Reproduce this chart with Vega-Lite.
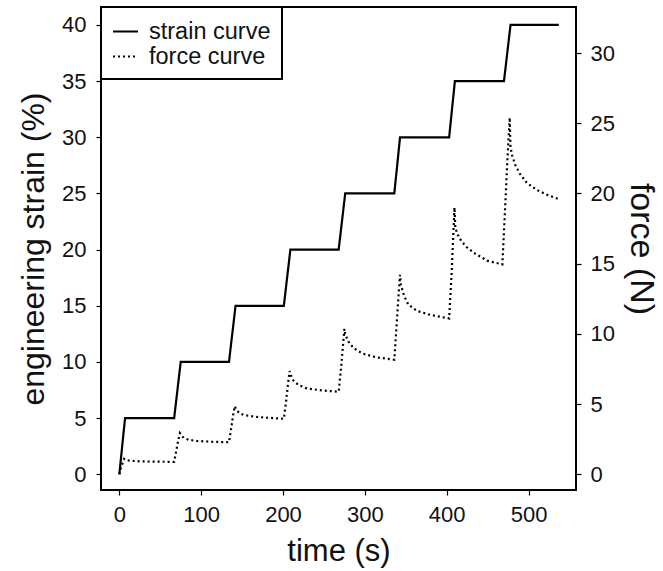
{
  "$schema": "https://vega.github.io/schema/vega-lite/v6.json",
  "autosize": "none",
  "width": 475,
  "height": 483,
  "padding": {"left": 101, "top": 7, "right": 87, "bottom": 81},
  "background": "white",
  "config": {
    "font": "Liberation Sans",
    "view": {"stroke": "black", "strokeWidth": 2},
    "axis": {
      "domain": false,
      "grid": false,
      "tickColor": "black",
      "tickSize": 5,
      "tickWidth": 1.2,
      "labelFont": "Liberation Sans",
      "labelFontSize": 22,
      "labelColor": "#111",
      "titleFont": "Liberation Sans",
      "titleFontSize": 32,
      "titleFontWeight": "normal",
      "titleColor": "#111"
    },
    "legend": {
      "strokeColor": "black",
      "strokeWidth": 2,
      "fillColor": "white",
      "cornerRadius": 0,
      "padding": 11,
      "offset": 0,
      "labelFont": "Liberation Sans",
      "labelFontSize": 23.5,
      "labelColor": "#111",
      "symbolType": "stroke",
      "symbolSize": 625,
      "symbolStrokeWidth": 2,
      "symbolStrokeColor": "black",
      "labelOffset": 10,
      "rowPadding": 0,
      "labelLimit": 300
    }
  },
  "data": {
    "values": [
      {"t": 0, "v": 0, "s": "strain curve"},
      {"t": 7, "v": 5, "s": "strain curve"},
      {"t": 67, "v": 5, "s": "strain curve"},
      {"t": 75, "v": 10, "s": "strain curve"},
      {"t": 134, "v": 10, "s": "strain curve"},
      {"t": 142, "v": 15, "s": "strain curve"},
      {"t": 201, "v": 15, "s": "strain curve"},
      {"t": 209, "v": 20, "s": "strain curve"},
      {"t": 268, "v": 20, "s": "strain curve"},
      {"t": 276, "v": 25, "s": "strain curve"},
      {"t": 336, "v": 25, "s": "strain curve"},
      {"t": 343, "v": 30, "s": "strain curve"},
      {"t": 403, "v": 30, "s": "strain curve"},
      {"t": 410, "v": 35, "s": "strain curve"},
      {"t": 470, "v": 35, "s": "strain curve"},
      {"t": 478, "v": 40, "s": "strain curve"},
      {"t": 537, "v": 40, "s": "strain curve"},

      {"t": 0, "v": 0, "s": "force curve"},
      {"t": 2, "v": 0.45, "s": "force curve"},
      {"t": 4, "v": 0.8, "s": "force curve"},
      {"t": 6, "v": 1.1, "s": "force curve"},
      {"t": 8, "v": 1.03, "s": "force curve"},
      {"t": 12, "v": 0.97, "s": "force curve"},
      {"t": 25, "v": 0.92, "s": "force curve"},
      {"t": 45, "v": 0.9, "s": "force curve"},
      {"t": 67, "v": 0.88, "s": "force curve"},
      {"t": 70, "v": 1.8, "s": "force curve"},
      {"t": 72, "v": 2.45, "s": "force curve"},
      {"t": 74, "v": 2.93, "s": "force curve"},
      {"t": 76, "v": 2.75, "s": "force curve"},
      {"t": 79, "v": 2.58, "s": "force curve"},
      {"t": 85, "v": 2.45, "s": "force curve"},
      {"t": 95, "v": 2.37, "s": "force curve"},
      {"t": 115, "v": 2.31, "s": "force curve"},
      {"t": 134, "v": 2.28, "s": "force curve"},
      {"t": 137, "v": 3.4, "s": "force curve"},
      {"t": 139, "v": 4.2, "s": "force curve"},
      {"t": 141, "v": 4.85, "s": "force curve"},
      {"t": 143, "v": 4.6, "s": "force curve"},
      {"t": 146, "v": 4.4, "s": "force curve"},
      {"t": 152, "v": 4.22, "s": "force curve"},
      {"t": 165, "v": 4.1, "s": "force curve"},
      {"t": 183, "v": 4.02, "s": "force curve"},
      {"t": 201, "v": 3.95, "s": "force curve"},
      {"t": 204, "v": 5.3, "s": "force curve"},
      {"t": 206, "v": 6.4, "s": "force curve"},
      {"t": 208, "v": 7.35, "s": "force curve"},
      {"t": 210, "v": 7.0, "s": "force curve"},
      {"t": 213, "v": 6.65, "s": "force curve"},
      {"t": 219, "v": 6.35, "s": "force curve"},
      {"t": 230, "v": 6.1, "s": "force curve"},
      {"t": 248, "v": 5.97, "s": "force curve"},
      {"t": 268, "v": 5.88, "s": "force curve"},
      {"t": 271, "v": 7.6, "s": "force curve"},
      {"t": 273, "v": 9.0, "s": "force curve"},
      {"t": 275, "v": 10.35, "s": "force curve"},
      {"t": 276, "v": 9.95, "s": "force curve"},
      {"t": 280, "v": 9.45, "s": "force curve"},
      {"t": 286, "v": 9.0, "s": "force curve"},
      {"t": 297, "v": 8.6, "s": "force curve"},
      {"t": 314, "v": 8.33, "s": "force curve"},
      {"t": 336, "v": 8.16, "s": "force curve"},
      {"t": 339, "v": 10.8, "s": "force curve"},
      {"t": 341, "v": 12.6, "s": "force curve"},
      {"t": 343, "v": 14.2, "s": "force curve"},
      {"t": 344, "v": 13.5, "s": "force curve"},
      {"t": 348, "v": 12.7, "s": "force curve"},
      {"t": 353, "v": 12.1, "s": "force curve"},
      {"t": 363, "v": 11.65, "s": "force curve"},
      {"t": 380, "v": 11.35, "s": "force curve"},
      {"t": 403, "v": 11.1, "s": "force curve"},
      {"t": 406, "v": 14.3, "s": "force curve"},
      {"t": 408, "v": 17.0, "s": "force curve"},
      {"t": 409.5, "v": 19.0, "s": "force curve"},
      {"t": 410.5, "v": 17.6, "s": "force curve"},
      {"t": 413, "v": 17.1, "s": "force curve"},
      {"t": 418, "v": 16.6, "s": "force curve"},
      {"t": 425, "v": 16.15, "s": "force curve"},
      {"t": 435, "v": 15.7, "s": "force curve"},
      {"t": 450, "v": 15.2, "s": "force curve"},
      {"t": 468, "v": 14.95, "s": "force curve"},
      {"t": 471, "v": 18.5, "s": "force curve"},
      {"t": 474, "v": 22.2, "s": "force curve"},
      {"t": 477, "v": 25.4, "s": "force curve"},
      {"t": 478, "v": 23.3, "s": "force curve"},
      {"t": 480, "v": 22.7, "s": "force curve"},
      {"t": 484, "v": 22.0, "s": "force curve"},
      {"t": 490, "v": 21.35, "s": "force curve"},
      {"t": 498, "v": 20.75, "s": "force curve"},
      {"t": 510, "v": 20.25, "s": "force curve"},
      {"t": 523, "v": 19.9, "s": "force curve"},
      {"t": 537, "v": 19.6, "s": "force curve"}
    ]
  },
  "encoding": {
    "x": {
      "field": "t",
      "type": "quantitative",
      "title": "time (s)",
      "scale": {"domain": [-22.4, 558], "nice": false, "zero": false},
      "axis": {"values": [0, 100, 200, 300, 400, 500], "labelPadding": 9, "titlePadding": 11, "titleFontSize": 31}
    },
    "strokeDash": {
      "field": "s",
      "type": "nominal",
      "scale": {"domain": ["strain curve", "force curve"], "range": [[1, 0], [2, 3]]},
      "legend": {"title": null, "orient": "top-left"}
    }
  },
  "layer": [
    {
      "transform": [{"filter": "datum.s === 'strain curve'"}],
      "mark": {"type": "line", "color": "black", "strokeWidth": 2.2, "clip": true},
      "encoding": {
        "y": {
          "field": "v",
          "type": "quantitative",
          "title": "engineering strain (%)",
          "scale": {"domain": [-1.4, 41.6], "nice": false, "zero": false},
          "axis": {"orient": "left", "values": [0, 5, 10, 15, 20, 25, 30, 35, 40], "labelPadding": 10, "titlePadding": 11}
        }
      }
    },
    {
      "transform": [{"filter": "datum.s === 'force curve'"}],
      "mark": {"type": "line", "color": "black", "strokeWidth": 2.2, "clip": true},
      "encoding": {
        "y": {
          "field": "v",
          "type": "quantitative",
          "title": "force (N)",
          "scale": {"domain": [-1.12, 33.28], "nice": false, "zero": false},
          "axis": {"orient": "right", "values": [0, 5, 10, 15, 20, 25, 30], "labelPadding": 9, "titlePadding": 9, "titleFontSize": 34}
        }
      }
    }
  ],
  "resolve": {"scale": {"y": "independent", "strokeDash": "shared"}, "axis": {"y": "independent"}}
}
